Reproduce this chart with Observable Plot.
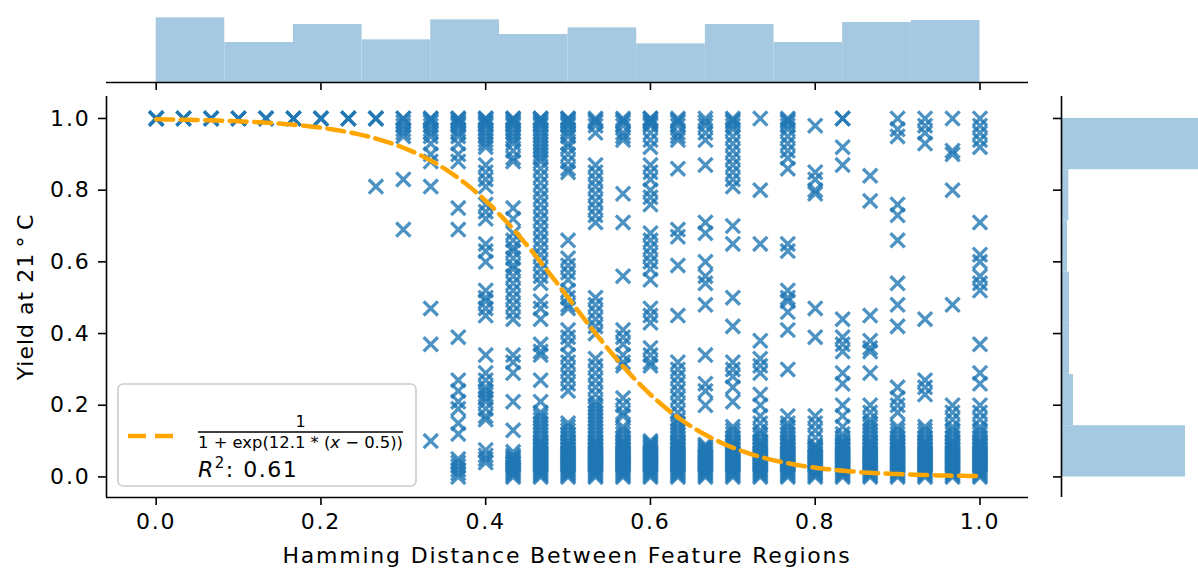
<!DOCTYPE html>
<html><head><meta charset="utf-8">
<script src="https://cdn.jsdelivr.net/npm/d3@7"></script>
<script src="https://cdn.jsdelivr.net/npm/@observablehq/plot@0.6"></script>
<style>
body{margin:0;background:#fff;}
#fig{position:relative;width:1198px;height:572px;overflow:hidden;background:#fff;}
#fig svg{position:absolute;}
</style></head><body><div id="fig"></div>
<script>
// ---- data ----
const xColumns = [0, 0.0333, 0.0667, 0.1, 0.1333, 0.1667, 0.2, 0.2333, 0.2667, 0.3, 0.3333, 0.3667, 0.4, 0.4333, 0.4667, 0.5, 0.5333, 0.5667, 0.6, 0.6333, 0.6667, 0.7, 0.7333, 0.7667, 0.8, 0.8333, 0.8667, 0.9, 0.9333, 0.9667, 1];
const yColumns = [
  [1,1,1,1],
  [1,1,1],
  [1,1,1],
  [1,1,1],
  [1,1,1],
  [1,1,1],
  [1,1,1],
  [1,1,1],
  [1,1,1,0.81],
  [1,1,0.99,0.98,0.97,0.96,0.95,0.83,0.69],
  [1,1,0.995,0.99,0.98,0.97,0.96,0.95,0.93,0.9,0.88,0.81,0.47,0.37,0.1],
  [1,1,0.995,0.99,0.985,0.98,0.97,0.96,0.95,0.93,0.9,0.88,0.75,0.69,0.39,0.27,0.24,0.21,0.19,0.15,0.12,0.05,0.04,0.03,0.02,0.01,0],
  [1,1,0.995,0.99,0.985,0.98,0.97,0.96,0.95,0.94,0.93,0.92,0.87,0.85,0.83,0.81,0.76,0.74,0.72,0.65,0.63,0.6,0.52,0.5,0.49,0.47,0.45,0.34,0.29,0.27,0.25,0.24,0.23,0.22,0.21,0.19,0.17,0.16,0.075,0.06,0.05,0.04],
  [1,1,0.995,0.99,0.985,0.98,0.97,0.96,0.95,0.94,0.93,0.91,0.89,0.88,0.75,0.72,0.68,0.66,0.64,0.63,0.61,0.59,0.58,0.56,0.54,0.52,0.5,0.48,0.46,0.44,0.34,0.32,0.29,0.21,0.13,0.07,0.06,0.055,0.05,0.045,0.04,0.035,0.03,0.025,0.02,0.015,0.01,0.005,0],
  [1,1,0.995,0.99,0.985,0.98,0.97,0.96,0.95,0.94,0.93,0.92,0.91,0.9,0.89,0.88,0.86,0.84,0.82,0.8,0.78,0.76,0.74,0.72,0.7,0.68,0.66,0.64,0.62,0.6,0.58,0.56,0.54,0.49,0.47,0.44,0.37,0.35,0.34,0.27,0.21,0.18,0.17,0.16,0.15,0.14,0.13,0.12,0.11,0.1,0.095,0.09,0.085,0.08,0.075,0.07,0.065,0.06,0.055,0.05,0.045,0.04,0.035,0.03,0.025,0.02,0.015,0.01,0.005,0],
  [1,1,0.995,0.99,0.985,0.98,0.97,0.96,0.95,0.93,0.92,0.9,0.88,0.86,0.85,0.66,0.61,0.59,0.57,0.55,0.52,0.5,0.48,0.47,0.41,0.39,0.37,0.34,0.32,0.3,0.28,0.26,0.24,0.15,0.14,0.13,0.12,0.11,0.1,0.095,0.09,0.085,0.08,0.075,0.07,0.065,0.06,0.055,0.05,0.045,0.04,0.035,0.03,0.025,0.02,0.015,0.01,0.005,0],
  [1,0.995,0.99,0.98,0.96,0.87,0.85,0.83,0.81,0.79,0.77,0.75,0.73,0.71,0.5,0.48,0.46,0.44,0.42,0.4,0.33,0.31,0.29,0.27,0.25,0.23,0.21,0.2,0.19,0.18,0.17,0.16,0.15,0.14,0.13,0.12,0.11,0.1,0.095,0.09,0.085,0.08,0.075,0.07,0.065,0.06,0.055,0.05,0.045,0.04,0.035,0.03,0.025,0.02,0.015,0.01,0.005,0],
  [1,0.995,0.99,0.98,0.96,0.95,0.94,0.79,0.71,0.56,0.41,0.39,0.37,0.34,0.32,0.31,0.22,0.2,0.18,0.17,0.14,0.13,0.12,0.11,0.1,0.095,0.09,0.085,0.08,0.075,0.07,0.065,0.06,0.055,0.05,0.045,0.04,0.035,0.03,0.025,0.02,0.015,0.01,0.005,0],
  [1,1,0.995,0.99,0.985,0.98,0.96,0.94,0.92,0.87,0.85,0.83,0.8,0.78,0.76,0.68,0.66,0.64,0.62,0.6,0.58,0.55,0.47,0.45,0.43,0.36,0.34,0.32,0.31,0.1,0.095,0.09,0.085,0.08,0.075,0.07,0.065,0.06,0.055,0.05,0.045,0.04,0.035,0.03,0.025,0.02,0.015,0.01,0.005,0],
  [1,0.995,0.99,0.98,0.96,0.95,0.94,0.86,0.69,0.67,0.59,0.45,0.32,0.3,0.28,0.26,0.24,0.22,0.2,0.18,0.16,0.15,0.14,0.13,0.12,0.11,0.1,0.095,0.09,0.085,0.08,0.075,0.07,0.065,0.06,0.055,0.05,0.045,0.04,0.035,0.03,0.025,0.02,0.015,0.01,0.005,0],
  [1,0.99,0.98,0.96,0.94,0.87,0.71,0.68,0.6,0.56,0.54,0.48,0.34,0.26,0.24,0.2,0.09,0.085,0.08,0.075,0.07,0.065,0.06,0.055,0.05,0.045,0.04,0.035,0.03,0.025,0.02,0.015,0.01,0.005,0],
  [1,0.995,0.99,0.98,0.97,0.95,0.93,0.91,0.89,0.87,0.85,0.83,0.81,0.7,0.65,0.5,0.42,0.32,0.3,0.28,0.25,0.21,0.14,0.13,0.12,0.11,0.1,0.095,0.09,0.085,0.08,0.075,0.07,0.065,0.06,0.055,0.05,0.045,0.04,0.035,0.03,0.025,0.02,0.015,0.01,0.005,0],
  [1,0.8,0.65,0.38,0.33,0.31,0.29,0.23,0.2,0.17,0.15,0.13,0.12,0.11,0.1,0.095,0.09,0.085,0.08,0.075,0.07,0.065,0.06,0.055,0.05,0.045,0.04,0.035,0.03,0.025,0.02,0.015,0.01,0.005,0],
  [1,0.995,0.99,0.98,0.97,0.95,0.93,0.91,0.89,0.86,0.65,0.63,0.52,0.5,0.49,0.46,0.41,0.3,0.17,0.15,0.14,0.13,0.12,0.11,0.1,0.095,0.09,0.085,0.08,0.075,0.07,0.065,0.06,0.055,0.05,0.045,0.04,0.035,0.03,0.025,0.02,0.015,0.01,0.005,0],
  [0.98,0.85,0.83,0.8,0.79,0.47,0.39,0.17,0.15,0.13,0.11,0.09,0.085,0.08,0.075,0.07,0.065,0.06,0.055,0.05,0.045,0.04,0.035,0.03,0.025,0.02,0.015,0.01,0.005,0],
  [1,1,0.92,0.87,0.44,0.39,0.37,0.35,0.29,0.26,0.2,0.17,0.14,0.12,0.11,0.1,0.095,0.09,0.085,0.08,0.075,0.07,0.065,0.06,0.055,0.05,0.045,0.04,0.035,0.03,0.025,0.02,0.015,0.01,0.005,0],
  [0.84,0.77,0.45,0.38,0.36,0.35,0.29,0.2,0.18,0.16,0.15,0.14,0.13,0.12,0.11,0.1,0.095,0.09,0.085,0.08,0.075,0.07,0.065,0.06,0.055,0.05,0.045,0.04,0.035,0.03,0.025,0.02,0.015,0.01,0.005,0],
  [1,0.97,0.95,0.76,0.73,0.66,0.54,0.48,0.42,0.25,0.22,0.2,0.18,0.14,0.13,0.12,0.11,0.1,0.095,0.09,0.085,0.08,0.075,0.07,0.065,0.06,0.055,0.05,0.045,0.04,0.035,0.03,0.025,0.02,0.015,0.01,0.005,0],
  [1,0.98,0.96,0.93,0.44,0.27,0.25,0.23,0.14,0.13,0.12,0.11,0.1,0.095,0.09,0.085,0.08,0.075,0.07,0.065,0.06,0.055,0.05,0.045,0.04,0.035,0.03,0.025,0.02,0.015,0.01,0.005,0],
  [1,0.91,0.9,0.8,0.48,0.2,0.18,0.16,0.14,0.13,0.12,0.11,0.1,0.095,0.09,0.085,0.08,0.075,0.07,0.065,0.06,0.055,0.05,0.045,0.04,0.035,0.03,0.025,0.02,0.015,0.01,0.005,0],
  [1,0.98,0.96,0.94,0.92,0.71,0.62,0.6,0.56,0.54,0.52,0.37,0.29,0.26,0.2,0.18,0.16,0.14,0.13,0.12,0.11,0.1,0.095,0.09,0.085,0.08,0.075,0.07,0.065,0.06,0.055,0.05,0.045,0.04,0.035,0.03,0.025,0.02,0.015,0.01,0.005,0]
];
const topHistEdges = [0, 0.0833, 0.1667, 0.25, 0.3333, 0.4167, 0.5, 0.5833, 0.6667, 0.75, 0.8333, 0.9167, 1];
const topHistCounts = [97, 60, 87, 64, 94, 72, 82, 58, 87, 60, 90, 93];
const rightHistEdges = [0, 0.1429, 0.2857, 0.4286, 0.5714, 0.7143, 0.8571, 1];
const rightHistCounts = [186, 18, 12, 12, 9, 11, 250];
const tickValues = [0, 0.2, 0.4, 0.6, 0.8, 1.0];
const fitK = 12.1, fitX0 = 0.5, fitR2 = 0.61;
const xLabel = "Hamming Distance Between Feature Regions";
const yLabel = "Yield at 21\u2009°\u2009C";

// ---- derived tables ----
const points = xColumns.flatMap((x, i) => yColumns[i].map(y => ({x, y})));
const topBins = topHistCounts.map((c, i) => ({x1: topHistEdges[i], x2: topHistEdges[i + 1], count: c}));
const rightBins = rightHistCounts.map((c, i) => ({y1: rightHistEdges[i], y2: rightHistEdges[i + 1], count: c}));
const fitCurve = d3.range(0, 1.0001, 0.005).map(x => ({x, y: 1 / (1 + Math.exp(fitK * (x - fitX0)))}));

const xDomain = [-0.0603, 1.0589];
const yDomain = [-0.0574, 1.0613];
const blue = "#1f77b4";
const histFill = "#a5c9e1";
const baseStyle = {fontFamily: "DejaVu Sans", fontSize: "22px", letterSpacing: "1.8px", background: "transparent", overflow: "visible", color: "black"};
const fig = document.getElementById("fig");

// ---- main scatter ----
const main = Plot.plot({
  width: 1050, height: 572,
  marginLeft: 106, marginRight: 22, marginTop: 96, marginBottom: 75,
  style: baseStyle,
  x: {domain: xDomain},
  y: {domain: yDomain},
  marks: [
    Plot.dot(points, {x: "x", y: "y", symbol: "times", r: 6.5, stroke: blue, strokeOpacity: 0.8, strokeWidth: 3.3}),
    Plot.line(fitCurve, {x: "x", y: "y", stroke: "orange", strokeWidth: 4.5, strokeDasharray: "17,7.5"}),
    Plot.ruleX([xDomain[0]], {stroke: "black", strokeWidth: 1.6}),
    Plot.ruleY([yDomain[0]], {stroke: "black", strokeWidth: 1.6}),
    Plot.axisX({ticks: tickValues, tickSize: 8, tickPadding: 8, tickFormat: d3.format(".1f"), label: null, strokeWidth: 1.6}),
    Plot.axisY({ticks: tickValues, tickSize: 8, tickPadding: 8, tickFormat: d3.format(".1f"), label: null, strokeWidth: 1.6})
  ]
});
main.style.left = "0px"; main.style.top = "0px";
fig.appendChild(main);

const sel = d3.select(main);
sel.append("text").attr("x", 567).attr("y", 563).attr("text-anchor", "middle").text(xLabel);
sel.append("text").attr("transform", "translate(33,297) rotate(-90)").attr("text-anchor", "middle").attr("letter-spacing", "1px").text(yLabel);

// legend
const lg = sel.append("g").attr("text-anchor", "start");
lg.append("rect").attr("x", 118).attr("y", 384).attr("width", 298).attr("height", 102).attr("rx", 5)
  .attr("fill", "white").attr("fill-opacity", 0.8).attr("stroke", "#cccccc").attr("stroke-width", 1.6);
lg.append("line").attr("x1", 128).attr("x2", 173).attr("y1", 436).attr("y2", 436)
  .attr("stroke", "orange").attr("stroke-width", 4.5).attr("stroke-dasharray", "18,9");
lg.append("text").attr("x", 300.5).attr("y", 427).attr("text-anchor", "middle").attr("font-size", 16).attr("letter-spacing", 0).text("1");
lg.append("line").attr("x1", 198).attr("x2", 403).attr("y1", 432).attr("y2", 432).attr("stroke", "black").attr("stroke-width", 1.3);
const den = lg.append("text").attr("x", 198).attr("y", 448).attr("font-size", 16).attr("letter-spacing", 0)
  .attr("text-anchor", "start").attr("textLength", 205).attr("lengthAdjust", "spacingAndGlyphs");
den.append("tspan").text(`1 + exp(${fitK} * (`);
den.append("tspan").attr("font-style", "italic").text("x");
den.append("tspan").text(` \u2212 ${fitX0}))`);
const r2 = lg.append("text").attr("x", 198).attr("y", 477).attr("font-size", 22).attr("letter-spacing", "1.5px").attr("text-anchor", "start");
r2.append("tspan").attr("font-style", "italic").text("R");
r2.append("tspan").attr("font-size", 15).attr("dy", -9).text("2");
r2.append("tspan").attr("dy", 9).text(`: ${fitR2}`);

// ---- top marginal histogram ----
const topH = Plot.plot({
  width: 1050, height: 100,
  marginLeft: 106, marginRight: 22, marginTop: 0, marginBottom: 18,
  style: baseStyle,
  x: {domain: xDomain},
  y: {domain: [0, 123], axis: null},
  marks: [
    Plot.rectY(topBins, {x1: "x1", x2: "x2", y: "count", fill: histFill}),
    Plot.ruleY([0], {stroke: "black", strokeWidth: 1.6}),
    Plot.axisX({ticks: tickValues, tickSize: 8, tickFormat: () => "", label: null, strokeWidth: 1.6})
  ]
});
topH.style.left = "0px"; topH.style.top = "0px";
fig.appendChild(topH);

// ---- right marginal histogram ----
const rightH = Plot.plot({
  width: 158, height: 572,
  marginLeft: 21, marginRight: 0, marginTop: 96, marginBottom: 75,
  style: baseStyle,
  x: {domain: [0, 205.5], axis: null},
  y: {domain: yDomain},
  marks: [
    Plot.rectX(rightBins, {y1: "y1", y2: "y2", x: "count", fill: histFill, clip: true}),
    Plot.ruleX([0], {stroke: "black", strokeWidth: 1.6}),
    Plot.axisY({ticks: tickValues, tickSize: 8, tickFormat: () => "", label: null, strokeWidth: 1.6})
  ]
});
rightH.style.left = "1040px"; rightH.style.top = "0px";
fig.appendChild(rightH);
</script></body></html>
